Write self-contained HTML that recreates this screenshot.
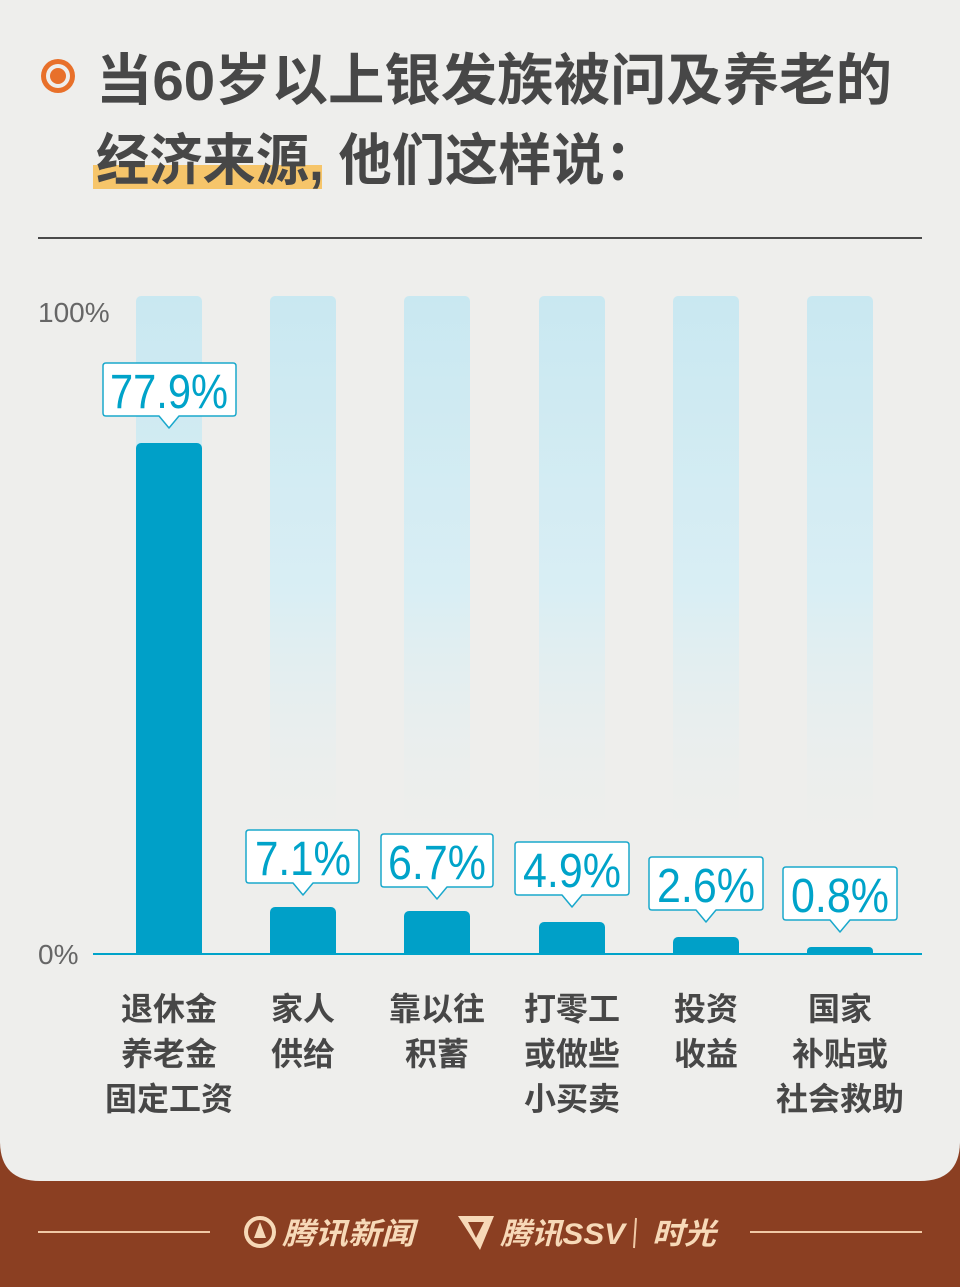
<!DOCTYPE html>
<html><head><meta charset="utf-8"><style>
html,body{margin:0;padding:0;width:960px;height:1287px;overflow:hidden;background:#8b3f22}
svg{display:block}
</style></head><body>
<svg width="960" height="1287" viewBox="0 0 960 1287" xmlns="http://www.w3.org/2000/svg">
<defs>
<linearGradient id="bg" x1="0" y1="0" x2="0" y2="1">
<stop offset="0" stop-color="#c9e8f1"/>
<stop offset="0.45" stop-color="#d9eef4"/>
<stop offset="0.85" stop-color="#ececec" stop-opacity="0"/>
</linearGradient>
<clipPath id="cb"><rect x="0" y="0" width="960" height="954"/></clipPath>
</defs>
<rect x="0" y="0" width="960" height="1287" fill="#8b3f22"/>
<path d="M0 0 H960 V1141 Q960 1181 920 1181 H40 Q0 1181 0 1141 Z" fill="#eeeeec"/>
<circle cx="58" cy="76" r="17" fill="#e8702a"/>
<circle cx="58" cy="76" r="12" fill="#eeeeec"/>
<circle cx="58" cy="76" r="8" fill="#e8702a"/>
<rect x="93" y="165" width="229" height="24" fill="#f6c56a"/>
<g font-family="'Liberation Sans','Noto Sans CJK SC',sans-serif" font-weight="bold" fill="#474747" font-size="56">
<text x="96" y="100" textLength="796" lengthAdjust="spacingAndGlyphs">当60岁以上银发族被问及养老的</text>
<text x="96" y="180" textLength="562" lengthAdjust="spacingAndGlyphs">经济来源, 他们这样说：</text>
</g>
<rect x="38" y="237" width="884" height="2" fill="#4a4a4a"/>
<g font-family="'Liberation Sans',sans-serif" fill="#666" font-size="28">
<text x="38" y="322">100%</text>
<text x="38" y="964">0%</text>
</g>
<g fill="url(#bg)">
<rect x="136" y="296" width="66" height="658" rx="5"/>
<rect x="270" y="296" width="66" height="658" rx="5"/>
<rect x="404" y="296" width="66" height="658" rx="5"/>
<rect x="539" y="296" width="66" height="658" rx="5"/>
<rect x="673" y="296" width="66" height="658" rx="5"/>
<rect x="807" y="296" width="66" height="658" rx="5"/>
</g>
<g fill="#00a0c8" clip-path="url(#cb)">
<rect x="136" y="443" width="66" height="516" rx="5"/>
<rect x="270" y="907" width="66" height="52" rx="5"/>
<rect x="404" y="911" width="66" height="48" rx="5"/>
<rect x="539" y="922" width="66" height="37" rx="5"/>
<rect x="673" y="937" width="66" height="22" rx="5"/>
<rect x="807" y="947" width="66" height="12" rx="4"/>
</g>
<rect x="93" y="953" width="829" height="2" fill="#00a3c9"/>
<g fill="#fff" stroke="#1aa8cc" stroke-width="1.5" stroke-linejoin="round">
<path d="M106 363 H233 Q236 363 236 366 V413 Q236 416 233 416 H179 L169 428 L159 416 H106 Q103 416 103 413 V366 Q103 363 106 363 Z"/>
<path d="M249 830 H356 Q359 830 359 833 V880 Q359 883 356 883 H313 L303 895 L293 883 H249 Q246 883 246 880 V833 Q246 830 249 830 Z"/>
<path d="M384 834 H490 Q493 834 493 837 V884 Q493 887 490 887 H447 L437 899 L427 887 H384 Q381 887 381 884 V837 Q381 834 384 834 Z"/>
<path d="M518 842 H626 Q629 842 629 845 V892 Q629 895 626 895 H582 L572 907 L562 895 H518 Q515 895 515 892 V845 Q515 842 518 842 Z"/>
<path d="M652 857 H760 Q763 857 763 860 V907 Q763 910 760 910 H716 L706 922 L696 910 H652 Q649 910 649 907 V860 Q649 857 652 857 Z"/>
<path d="M786 867 H894 Q897 867 897 870 V917 Q897 920 894 920 H850 L840 932 L830 920 H786 Q783 920 783 917 V870 Q783 867 786 867 Z"/>
</g>
<g font-family="'Liberation Sans',sans-serif" fill="#00a3c9" font-size="48" text-anchor="middle">
<text x="169" y="408" textLength="118" lengthAdjust="spacingAndGlyphs">77.9%</text>
<text x="303" y="875" textLength="96" lengthAdjust="spacingAndGlyphs">7.1%</text>
<text x="437" y="879" textLength="98" lengthAdjust="spacingAndGlyphs">6.7%</text>
<text x="572" y="887" textLength="98" lengthAdjust="spacingAndGlyphs">4.9%</text>
<text x="706" y="902" textLength="98" lengthAdjust="spacingAndGlyphs">2.6%</text>
<text x="840" y="912" textLength="98" lengthAdjust="spacingAndGlyphs">0.8%</text>
</g>
<g font-family="'Liberation Sans','Noto Sans CJK SC',sans-serif" font-weight="bold" fill="#474747" font-size="32" text-anchor="middle">
<text x="169" y="1020">退休金</text><text x="169" y="1065">养老金</text><text x="169" y="1110">固定工资</text>
<text x="303" y="1020">家人</text><text x="303" y="1065">供给</text>
<text x="437" y="1020">靠以往</text><text x="437" y="1065">积蓄</text>
<text x="572" y="1020">打零工</text><text x="572" y="1065">或做些</text><text x="572" y="1110">小买卖</text>
<text x="706" y="1020">投资</text><text x="706" y="1065">收益</text>
<text x="840" y="1020">国家</text><text x="840" y="1065">补贴或</text><text x="840" y="1110">社会救助</text>
</g>
<g stroke="#f0c9a6" stroke-width="2">
<line x1="38" y1="1232" x2="210" y2="1232"/>
<line x1="750" y1="1232" x2="922" y2="1232"/>
<line x1="636" y1="1218" x2="634" y2="1248"/>
</g>
<circle cx="260" cy="1232" r="14" fill="none" stroke="#f7d9b8" stroke-width="4"/>
<path d="M254 1238 L260 1222 L266 1238 Z" fill="#f7d9b8"/>
<path d="M458 1216 H494 L480 1250 Z M468 1222 L476 1238 L484 1222 Z" fill="#f7d9b8" fill-rule="evenodd"/>
<g font-family="'Liberation Sans','Noto Sans CJK SC',sans-serif" font-weight="bold" fill="#f7d9b8" font-size="30" font-style="italic">
<text x="282" y="1244" textLength="132" lengthAdjust="spacingAndGlyphs">腾讯新闻</text>
<text x="500" y="1244" textLength="125" lengthAdjust="spacingAndGlyphs">腾讯SSV</text>
<text x="652" y="1244" textLength="64" lengthAdjust="spacingAndGlyphs">时光</text>
</g>
</svg>
</body></html>
